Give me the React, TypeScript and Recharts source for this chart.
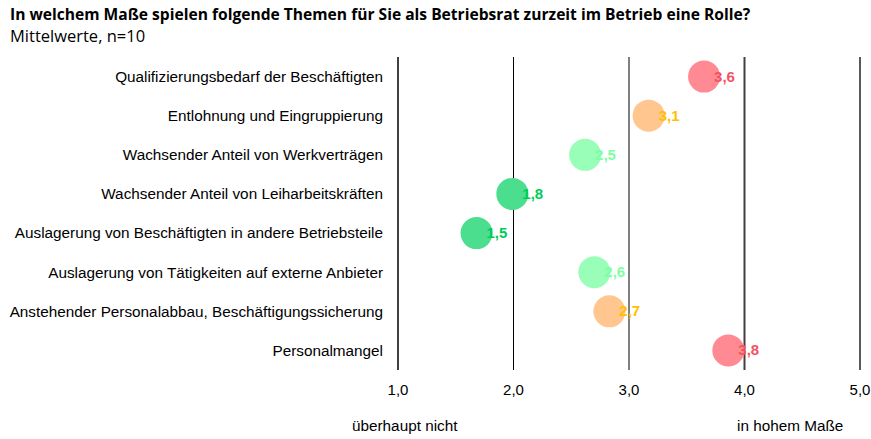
import { ScatterChart, Scatter, XAxis, YAxis, ReferenceLine, LabelList } from "recharts";

const categories = [
  "Qualifizierungsbedarf der Beschäftigten",
  "Entlohnung und Eingruppierung",
  "Wachsender Anteil von Werkverträgen",
  "Wachsender Anteil von Leiharbeitskräften",
  "Auslagerung von Beschäftigten in andere Betriebsteile",
  "Auslagerung von Tätigkeiten auf externe Anbieter",
  "Anstehender Personalabbau, Beschäftigungssicherung",
  "Personalmangel",
];
// bubble positions as drawn, and the printed mean labels
const positions = [3.65, 3.17, 2.62, 1.99, 1.68, 2.7, 2.83, 3.86];
const valueLabels = ["3,6", "3,1", "2,5", "1,8", "1,5", "2,6", "2,7", "3,8"];
const levels = ["high", "mid", "low", "vlow", "vlow", "low", "mid", "high"];
const xTicks = [1, 2, 3, 4, 5];

const bubbleFill: Record<string, string> = {
  high: "#FF8A93",
  mid: "#FFC78F",
  low: "#99FFB8",
  vlow: "#4ADE8E",
};
const labelFill: Record<string, string> = {
  high: "#F2545F",
  mid: "#FFC000",
  low: "#7DFFA4",
  vlow: "#00CC55",
};
const gridStyle: Record<number, { stroke: string; w: number }> = {
  1: { stroke: "#404040", w: 2 },
  2: { stroke: "#000000", w: 1 },
  3: { stroke: "#808080", w: 2 },
  4: { stroke: "#404040", w: 2 },
  5: { stroke: "#595959", w: 2 },
};

const data = categories.map((name, i) => ({
  name,
  x: positions[i],
  label: valueLabels[i],
  level: levels[i],
}));

const font = "'Liberation Sans', Arial, sans-serif";

function Bubble(props: any) {
  const { cx, cy, payload } = props;
  return <circle cx={cx} cy={cy} r={16} fill={bubbleFill[payload.level]} />;
}

function ValueLabel(props: any) {
  const { x, y, width, height, index } = props;
  const cx = x + width / 2;
  const cy = y + height / 2;
  const d = data[index];
  return (
    <text
      x={cx + 10}
      y={cy + 1}
      dominantBaseline="middle"
      fill={labelFill[d.level]}
      fontFamily={font}
      fontWeight="bold"
      fontSize={15}
    >
      {d.label}
    </text>
  );
}

const axisNote = {
  position: "absolute" as const,
  top: 417,
  fontFamily: font,
  fontSize: 15.3,
  color: "#000",
};

export default function App() {
  return (
    <div style={{ position: "fixed", left: 0, top: 0, width: 871, height: 439, background: "#fff" }}>
      <div
        style={{
          position: "absolute",
          left: 10,
          top: 3,
          fontFamily: "'Open Sans', sans-serif",
          color: "#000",
        }}
      >
        <div style={{ fontWeight: "bold", fontSize: 15.6, lineHeight: "22px" }}>
          In welchem Maße spielen folgende Themen für Sie als Betriebsrat zurzeit im Betrieb eine Rolle?
        </div>
        <div style={{ fontSize: 16.5, lineHeight: "22px" }}>Mittelwerte, n=10</div>
      </div>
      <div style={{ position: "absolute", left: 0, top: 0 }}>
        <ScatterChart
          width={871}
          height={439}
          data={data}
          margin={{ top: 57, right: 11, bottom: 39, left: 0 }}
          style={{ overflow: "visible" }}
        >
          <XAxis
            type="number"
            dataKey="x"
            domain={[1, 5]}
            ticks={xTicks}
            tickFormatter={(v: number) => v.toFixed(1).replace(".", ",")}
            axisLine={false}
            tickLine={false}
            tick={{ fill: "#000", fontSize: 15, fontFamily: font }}
            tickMargin={8}
            height={30}
          />
          <YAxis
            type="category"
            dataKey="name"
            width={398}
            reversed
            axisLine={false}
            tickLine={false}
            tickMargin={9}
            interval={0}
            tick={{ fill: "#000", fontSize: 15.3, fontFamily: font }}
          />
          {xTicks.map((t) => (
            <ReferenceLine
              key={t}
              x={t}
              stroke={gridStyle[t].stroke}
              strokeWidth={gridStyle[t].w}
            />
          ))}
          <Scatter data={data} shape={Bubble} isAnimationActive={false}>
            <LabelList dataKey="label" content={ValueLabel} />
          </Scatter>
        </ScatterChart>
      </div>
      <div style={{ ...axisNote, left: 352 }}>überhaupt nicht</div>
      <div style={{ ...axisNote, left: 737 }}>in hohem Maße</div>
    </div>
  );
}
